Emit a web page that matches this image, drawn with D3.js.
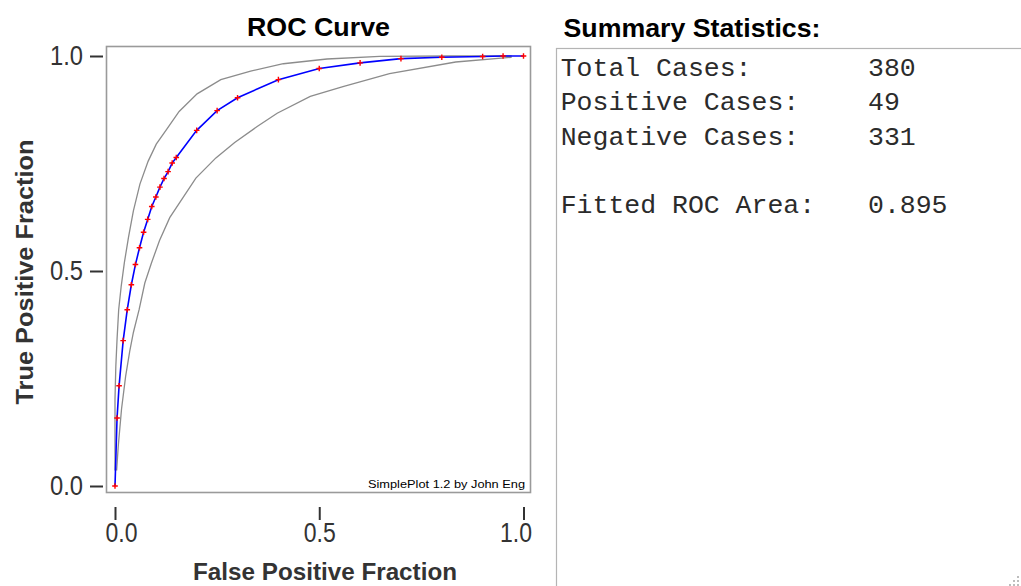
<!DOCTYPE html>
<html>
<head>
<meta charset="utf-8">
<script src="https://cdn.jsdelivr.net/npm/d3@7"></script>
<style>
  html, body { margin: 0; padding: 0; background: #fff; }
  svg { display: block; }
</style>
</head>
<body>
<svg id="chart" width="1021" height="586"></svg>
<script>
// ---- data ----
const fittedFPF = [0, 0.005, 0.01, 0.02, 0.03, 0.04, 0.05, 0.06, 0.07, 0.08, 0.09, 0.10, 0.11, 0.12, 0.13, 0.14, 0.15, 0.20, 0.25, 0.30, 0.40, 0.50, 0.60, 0.70, 0.80, 0.90, 0.95, 1.0];
const fittedTPF = [0, 0.158, 0.233, 0.338, 0.410, 0.468, 0.515, 0.554, 0.590, 0.620, 0.650, 0.672, 0.695, 0.715, 0.731, 0.751, 0.764, 0.827, 0.873, 0.903, 0.945, 0.971, 0.984, 0.994, 0.997, 0.999, 1.0, 1.0];

const upperFPF = [0, 0, 0, 0.002, 0.005, 0.009, 0.015, 0.023, 0.033, 0.045, 0.061, 0.081, 0.101, 0.126, 0.157, 0.201, 0.259, 0.332, 0.412, 0.519, 0.648, 0.818, 0.971];
const upperTPF = [0.036, 0.087, 0.202, 0.278, 0.341, 0.410, 0.463, 0.520, 0.578, 0.640, 0.702, 0.755, 0.795, 0.829, 0.871, 0.912, 0.945, 0.965, 0.982, 0.993, 0.999, 1.0, 1.0];

const lowerFPF = [0.004, 0.008, 0.016, 0.026, 0.036, 0.045, 0.059, 0.073, 0.089, 0.109, 0.134, 0.166, 0.198, 0.247, 0.293, 0.348, 0.397, 0.478, 0.558, 0.672, 0.834, 0.971];
const lowerTPF = [0.036, 0.093, 0.179, 0.255, 0.313, 0.357, 0.410, 0.472, 0.518, 0.571, 0.624, 0.670, 0.716, 0.763, 0.799, 0.836, 0.867, 0.906, 0.929, 0.959, 0.986, 0.997];

const tickValues = [0, 0.5, 1.0];
const tickLabels = ["0.0", "0.5", "1.0"];

const chartTitle = "ROC Curve";
const xTitle = "False Positive Fraction";
const yTitle = "True Positive Fraction";
const credit = "SimplePlot 1.2 by John Eng";

const statsTitle = "Summary Statistics:";
const statLabels = ["Total Cases:", "Positive Cases:", "Negative Cases:", "", "Fitted ROC Area:"];
const statValues = ["380", "49", "331", "", "0.895"];

// ---- drawing ----
const svg = d3.select("#chart");
const x = d3.scaleLinear().domain([0, 1]).range([115, 523.5]);
const y = d3.scaleLinear().domain([0, 1]).range([486, 56]);

const sans = "'Liberation Sans', Arial, Helvetica, sans-serif";
const narrow = "'Liberation Sans Narrow', 'Arial Narrow', 'Liberation Sans', Arial, sans-serif";
const mono = "'Liberation Mono', 'Courier New', 'DejaVu Sans Mono', monospace";

// plot frame
svg.append("rect")
  .attr("x", 106.5).attr("y", 46.5)
  .attr("width", 424).attr("height", 446)
  .attr("fill", "#fff").attr("stroke", "#9a9a9a").attr("stroke-width", 1.6);

// title
svg.append("text")
  .attr("x", 318.5).attr("y", 36)
  .attr("text-anchor", "middle")
  .attr("font-family", sans).attr("font-weight", "bold").attr("font-size", 26)
  .attr("textLength", 143).attr("lengthAdjust", "spacingAndGlyphs")
  .attr("fill", "#000")
  .text(chartTitle);

// y axis
const yAxis = d3.axisLeft(y).tickValues(tickValues)
  .tickFormat((d, i) => tickLabels[i]).tickSize(13).tickPadding(7);
const gy = svg.append("g").attr("transform", "translate(103,0)").call(yAxis);
gy.select(".domain").remove();
gy.selectAll(".tick line").attr("stroke", "#333").attr("stroke-width", 2);
gy.selectAll(".tick text")
  .attr("font-family", narrow).attr("font-size", 27).attr("fill", "#333")
  .attr("textLength", 33).attr("lengthAdjust", "spacingAndGlyphs");

// x axis
const xAxis = d3.axisBottom(x).tickValues(tickValues)
  .tickFormat((d, i) => tickLabels[i]).tickSize(13).tickPadding(3);
const gx = svg.append("g").attr("transform", "translate(0,507)").call(xAxis);
gx.select(".domain").remove();
gx.selectAll(".tick line").attr("stroke", "#333").attr("stroke-width", 2);
gx.selectAll(".tick text")
  .attr("font-family", narrow).attr("font-size", 27).attr("fill", "#333")
  .attr("textLength", 32).attr("lengthAdjust", "spacingAndGlyphs")
  .attr("dx", (d) => d === 0 ? 6 : (d === 1 ? -8 : 0));

// axis titles
svg.append("text")
  .attr("x", 325).attr("y", 580)
  .attr("text-anchor", "middle")
  .attr("font-family", sans).attr("font-weight", "bold").attr("font-size", 24)
  .attr("textLength", 264).attr("lengthAdjust", "spacingAndGlyphs")
  .attr("fill", "#333")
  .text(xTitle);

svg.append("text")
  .attr("transform", "translate(33,272) rotate(-90)")
  .attr("text-anchor", "middle")
  .attr("font-family", sans).attr("font-weight", "bold").attr("font-size", 24)
  .attr("textLength", 265).attr("lengthAdjust", "spacingAndGlyphs")
  .attr("fill", "#333")
  .text(yTitle);

// confidence bounds
const line = d3.line().x(d => x(d[0])).y(d => y(d[1]));
const upper = upperFPF.map((v, i) => [v, upperTPF[i]]);
const lower = lowerFPF.map((v, i) => [v, lowerTPF[i]]);
const fitted = fittedFPF.map((v, i) => [v, fittedTPF[i]]);

svg.append("path").datum(upper).attr("d", line)
  .attr("fill", "none").attr("stroke", "#8c8c8c").attr("stroke-width", 1.3);
svg.append("path").datum(lower).attr("d", line)
  .attr("fill", "none").attr("stroke", "#8c8c8c").attr("stroke-width", 1.3);

// fitted curve
svg.append("path").datum(fitted).attr("d", line)
  .attr("fill", "none").attr("stroke", "#0000ff").attr("stroke-width", 1.6);

// markers
svg.append("g").selectAll("path").data(fitted).join("path")
  .attr("transform", d => `translate(${x(d[0])},${y(d[1])})`)
  .attr("d", "M-2.8,0H2.8M0,-2.8V2.8")
  .attr("stroke", "#ff0000").attr("stroke-width", 1.4).attr("fill", "none");

// credit
svg.append("text")
  .attr("x", 525).attr("y", 488)
  .attr("text-anchor", "end")
  .attr("font-family", narrow).attr("font-size", 11.5)
  .attr("textLength", 157).attr("lengthAdjust", "spacingAndGlyphs")
  .attr("fill", "#000")
  .text(credit);

// ---- summary panel ----
svg.append("text")
  .attr("x", 563.5).attr("y", 36.5)
  .attr("font-family", sans).attr("font-weight", "bold").attr("font-size", 26)
  .attr("textLength", 257).attr("lengthAdjust", "spacingAndGlyphs")
  .attr("fill", "#000")
  .text(statsTitle);

svg.append("rect")
  .attr("x", 556.5).attr("y", 48.5)
  .attr("width", 480).attr("height", 560)
  .attr("fill", "none").attr("stroke", "#b4b4b4").attr("stroke-width", 1.2);

const rowY = d3.scaleLinear().domain([0, 4]).range([76, 213]);
const stats = svg.append("g")
  .attr("font-family", mono).attr("font-size", 26.5).attr("fill", "#2b2b2b");
stats.selectAll("text.lab").data(statLabels).join("text")
  .attr("class", "lab")
  .attr("x", 560.7).attr("y", (d, i) => rowY(i))
  .text(d => d);
stats.selectAll("text.val").data(statValues).join("text")
  .attr("class", "val")
  .attr("x", 868).attr("y", (d, i) => rowY(i))
  .text(d => d);

// resize grip dots
const grip = [[1017, 576], [1013, 580], [1017, 580], [1009, 584], [1013, 584], [1017, 584]];
svg.append("g").selectAll("rect").data(grip).join("rect")
  .attr("x", d => d[0]).attr("y", d => d[1])
  .attr("width", 2).attr("height", 2)
  .attr("fill", "#bdbdbd");
</script>
</body>
</html>
